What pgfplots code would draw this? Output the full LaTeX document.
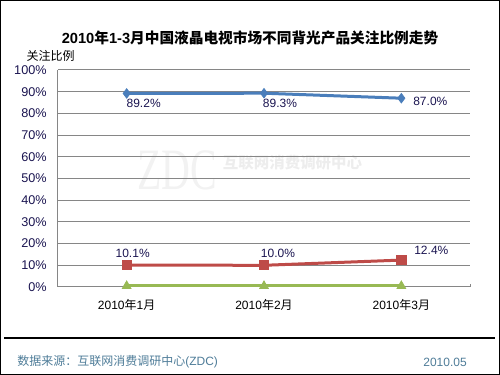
\documentclass[border=0pt]{standalone}
\usepackage{fontspec}
\usepackage{pgfplots}
\pgfplotsset{compat=1.18}
\setmainfont{Liberation Sans}
\newfontfamily\cjk{Noto Sans CJK SC}
\newfontfamily\wmserif{Liberation Serif}
\definecolor{sblue}{HTML}{4A7EBB}
\definecolor{sred}{HTML}{BE4B48}
\definecolor{sgreen}{HTML}{98B954}
\definecolor{navytxt}{HTML}{1A1450}
\definecolor{foot}{HTML}{4E7C98}
\definecolor{gridc}{HTML}{868686}
\begin{document}
\begin{tikzpicture}
\useasboundingbox (0,0) rectangle (375pt,281.25pt);
\draw[black, line width=1.1pt] (0.55pt,0.55pt) rectangle (374.45pt,280.7pt);
\draw[black, line width=1.1pt] (3pt,27.75pt) -- (371.25pt,27.75pt);
% watermark
\node[text=gray!10, font=\wmserif\fontsize{44pt}{44pt}\selectfont, xscale=0.68, inner sep=0] at (132.75pt,153.75pt) {ZDC};
\node[text=gray!14, font=\cjk\bfseries\fontsize{11.6pt}{13pt}\selectfont, inner sep=0] at (219.4pt,159pt) {互联网消费调研中心};
% title
\node[font=\bfseries\fontsize{11pt}{13pt}\selectfont, inner sep=0] at (187.5pt,252.75pt) {2010{\cjk 年}1-3{\cjk 月中国液晶电视市场不同背光产品关注比例走势}};
\node[font=\cjk\fontsize{9pt}{11pt}\selectfont, inner sep=0] at (37.9pt,239.25pt) {关注比例};
% footer
\node[anchor=west, text=foot, font=\fontsize{9pt}{11pt}\selectfont, inner sep=0] at (12.75pt,9.75pt) {{\cjk 数据来源：互联网消费调研中心}(ZDC)};
\node[anchor=east, text=foot, font=\fontsize{9pt}{11pt}\selectfont, inner sep=0] at (350.25pt,9.75pt) {2010.05};
\begin{axis}[
  at={(43.5pt,66pt)}, anchor=south west,
  scale only axis, width=309pt, height=162.75pt,
  xmin=-0.5, xmax=2.5, ymin=0, ymax=100,
  /pgf/number format/assume math mode=true,
  axis x line*=bottom, axis y line*=left,
  axis line style={draw=gridc, line width=0.75pt, -},
  ytick={0,10,...,100},
  yticklabel={\pgfmathprintnumber{\tick}\%},
  yticklabel style={text=navytxt, font=\fontsize{9.5pt}{11pt}\selectfont, xshift=-5pt},
  ymajorgrids, grid style={draw=gridc, line width=0.75pt},
  major y tick style={draw=none},
  xtick={0,1,2},
  xticklabels={{2010{\cjk 年}1{\cjk 月}},{2010{\cjk 年}2{\cjk 月}},{2010{\cjk 年}3{\cjk 月}}},
  xticklabel style={text=black, font=\fontsize{9pt}{11pt}\selectfont, yshift=-6pt},
  major x tick style={draw=none},
  extra x ticks={0.5,1.5,2.5},
  extra x tick labels={},
  extra x tick style={grid=none, major tick length=2.5pt, tick align=inside, major x tick style={draw=gridc, line width=0.75pt}},
  clip=false,
]
\addplot[sblue, line width=2.25pt, mark=diamond*, mark size=3.6pt, mark options={solid, fill=sblue, line width=0.5pt}] coordinates {(0,89.2) (1,89.3) (2,87.0)};
\addplot[sred, line width=2.25pt, mark=square*, mark size=3.4pt, mark options={solid, fill=sred, line width=0.5pt}] coordinates {(0,10.1) (1,10.0) (2,12.4)};
\addplot[sgreen, line width=2.25pt, mark=triangle*, mark size=3.8pt, mark options={solid, fill=sgreen, line width=0.5pt}] coordinates {(0,0.5) (1,0.5) (2,0.5)};
\begin{scope}[every node/.style={text=navytxt, font=\fontsize{9pt}{11pt}\selectfont, inner sep=0}]
\node[xshift=12.75pt, yshift=-7.5pt] at (axis cs:0,89.2) {89.2\%};
\node[xshift=12pt, yshift=-7.5pt] at (axis cs:1,89.3) {89.3\%};
\node[xshift=21.75pt, yshift=-2.25pt] at (axis cs:2,87.0) {87.0\%};
\node[xshift=4.5pt, yshift=9pt] at (axis cs:0,10.1) {10.1\%};
\node[xshift=10.5pt, yshift=9pt] at (axis cs:1,10.0) {10.0\%};
\node[xshift=22.5pt, yshift=7.5pt] at (axis cs:2,12.4) {12.4\%};
\end{scope}
\end{axis}
\end{tikzpicture}
\end{document}
